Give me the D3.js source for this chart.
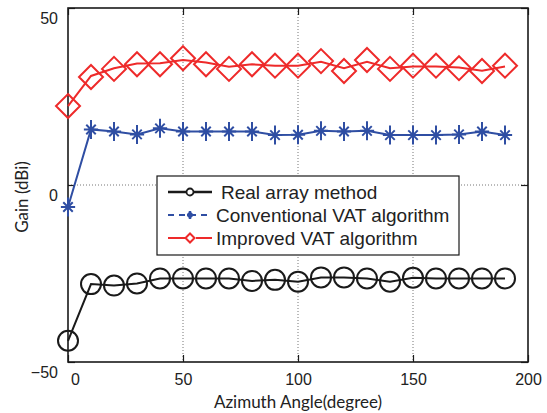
<!DOCTYPE html>
<html>
<head>
<meta charset="utf-8">
<script src="https://cdn.jsdelivr.net/npm/d3@7"></script>
<style>
  body { margin: 0; background: #fff; }
  svg { font-family: "Liberation Sans", Arial, sans-serif; }
</style>
</head>
<body>
<svg id="chart" width="547" height="413"></svg>
<script>
// azimuth angles (degree)
let angles = [0, 10, 20, 30, 40, 50, 60, 70, 80, 90, 100, 110, 120, 130, 140, 150, 160, 170, 180, 190];

// gains (dBi)
let realArray = [-44, -28, -28.4, -27.8, -26.4, -26.4, -26.4, -26.4, -27.1, -26.8, -27.3, -26.1, -26.1, -26.4, -27.3, -26.2, -26.4, -26.4, -26.4, -26.4];
let conventional = [-6.2, 15.7, 15.1, 14.3, 16.0, 15.1, 15.1, 15.1, 15.1, 14.1, 14.2, 15.3, 15.1, 15.3, 14.1, 14.1, 14.1, 14.3, 15.1, 14.1];
let improvedLine = [22.3, 30.8, 33.0, 34.3, 34.4, 35.3, 34.6, 33.4, 34.1, 33.7, 33.7, 34.8, 33.0, 34.8, 33.0, 33.5, 33.5, 33.2, 32.3, 33.5];
let improvedMarks = [22.3, 30.5, 32.8, 34.1, 34.1, 35.8, 34.1, 32.8, 34.1, 33.7, 33.7, 35.0, 32.2, 35.3, 32.8, 33.7, 33.7, 33.0, 32.2, 33.7];

let xTicks = [0, 50, 100, 150, 200];
let yTicks = [-50, 0, 50];
let legendLabels = ["Real array method", "Conventional VAT algorithm", "Improved VAT algorithm"];

let black = "#1a1a1a", blue = "#2f4ea3", red = "#ee2a2a";

let svg = d3.select("#chart");
let plotLeft = 68, plotRight = 528, plotTop = 8, plotBottom = 362;

let xScale = d3.scaleLinear().domain([0, 200]).range([plotLeft, plotRight]);
let yScale = d3.scaleLinear().domain([-50, 50]).range([plotBottom, plotTop]);

// grid (dotted)
let grid = svg.append("g")
    .attr("stroke", "#777")
    .attr("stroke-width", 1)
    .attr("stroke-dasharray", "1 2");
grid.selectAll("line.gx")
    .data(xTicks.filter(d => d > 0 && d < 200))
    .enter().append("line")
    .attr("x1", d => xScale(d)).attr("x2", d => xScale(d))
    .attr("y1", plotTop).attr("y2", plotBottom);
grid.selectAll("line.gy")
    .data(yTicks.filter(d => d > -50 && d < 50))
    .enter().append("line")
    .attr("x1", plotLeft).attr("x2", plotRight)
    .attr("y1", d => yScale(d)).attr("y2", d => yScale(d));

// axes with inward ticks
let xAxis = d3.axisBottom(xScale).tickValues(xTicks).tickSize(-7).tickPadding(12);
let yAxis = d3.axisLeft(yScale).tickValues(yTicks).tickSize(-7).tickPadding(10);

let gx = svg.append("g").attr("transform", "translate(0," + plotBottom + ")").call(xAxis);
let gy = svg.append("g").attr("transform", "translate(" + plotLeft + ",0)").call(yAxis);
svg.append("g").attr("transform", "translate(0," + plotTop + ")")
    .call(d3.axisTop(xScale).tickValues(xTicks).tickSize(-7).tickFormat(""));
svg.append("g").attr("transform", "translate(" + plotRight + ",0)")
    .call(d3.axisRight(yScale).tickValues(yTicks).tickSize(-7).tickFormat(""));

svg.selectAll(".domain").remove();
svg.selectAll(".tick line").attr("stroke", black).attr("stroke-width", 1.2);
gx.selectAll(".tick text")
    .attr("font-size", 16).attr("fill", "#222")
    .attr("dx", d => d === 0 ? 7 : 0);
gy.selectAll(".tick text")
    .attr("font-size", 16).attr("fill", "#222")
    .attr("dy", "0.95em");

// frame
svg.append("rect")
    .attr("x", plotLeft).attr("y", plotTop)
    .attr("width", plotRight - plotLeft).attr("height", plotBottom - plotTop)
    .attr("fill", "none").attr("stroke", black).attr("stroke-width", 1.6);

// axis titles
svg.append("text")
    .attr("x", 298).attr("y", 408)
    .attr("text-anchor", "middle").attr("font-size", 17).attr("fill", "#222")
    .attr("font-family", "Lato, sans-serif")
    .text("Azimuth Angle(degree)");
svg.append("text")
    .attr("transform", "translate(28,197) rotate(-90)")
    .attr("text-anchor", "middle").attr("font-size", 17).attr("fill", "#222")
    .attr("font-family", "Lato, sans-serif")
    .text("Gain (dBi)");

function series(values) {
    return values.map((v, i) => ({x: angles[i], y: v}));
}

let line = d3.line().x(d => xScale(d.x)).y(d => yScale(d.y));

function starPath(s) {
    let h = s * 0.75, d = s * 0.5;
    return "M0," + (-s) + "V" + s +
        "M" + (-h) + ",0H" + h +
        "M" + (-d) + "," + (-d) + "L" + d + "," + d +
        "M" + (-d) + "," + d + "L" + d + "," + (-d);
}
function diamondPath(s) {
    return "M0," + (-s) + "L" + s + ",0L0," + s + "L" + (-s) + ",0Z";
}

// improved VAT
svg.append("path").datum(series(improvedLine))
    .attr("d", line).attr("fill", "none")
    .attr("stroke", red).attr("stroke-width", 2);
svg.selectAll("path.dia").data(series(improvedMarks)).enter().append("path")
    .attr("class", "dia")
    .attr("transform", d => "translate(" + xScale(d.x) + "," + yScale(d.y) + ")")
    .attr("d", diamondPath(12))
    .attr("fill", "none").attr("stroke", red).attr("stroke-width", 2);

// conventional VAT
svg.append("path").datum(series(conventional))
    .attr("d", line).attr("fill", "none")
    .attr("stroke", blue).attr("stroke-width", 2);
svg.selectAll("path.star").data(series(conventional)).enter().append("path")
    .attr("class", "star")
    .attr("transform", d => "translate(" + xScale(d.x) + "," + yScale(d.y) + ")")
    .attr("d", starPath(9.5))
    .attr("fill", "none").attr("stroke", blue).attr("stroke-width", 2);

// real array
svg.append("path").datum(series(realArray))
    .attr("d", line).attr("fill", "none")
    .attr("stroke", black).attr("stroke-width", 2);
svg.selectAll("circle.real").data(series(realArray)).enter().append("circle")
    .attr("class", "real")
    .attr("cx", d => xScale(d.x)).attr("cy", d => yScale(d.y))
    .attr("r", 10)
    .attr("fill", "none").attr("stroke", black).attr("stroke-width", 2);

// legend
let legend = svg.append("g").attr("transform", "translate(157,176)");
legend.append("rect")
    .attr("width", 302).attr("height", 79)
    .attr("fill", "#fff").attr("stroke", black).attr("stroke-width", 1.2);

let rows = legend.selectAll("g.row").data(legendLabels).enter().append("g")
    .attr("transform", (d, i) => "translate(0," + (16 + i * 23) + ")");

rows.append("text")
    .attr("x", (d, i) => i === 0 ? 64 : 59).attr("y", 0).attr("dy", "0.36em")
    .attr("font-size", 19).attr("fill", "#222")
    .text(d => d);

// row 0: solid black with circle
let r0 = rows.filter((d, i) => i === 0);
r0.append("line").attr("x1", 11).attr("x2", 55).attr("y1", 0).attr("y2", 0)
    .attr("stroke", black).attr("stroke-width", 2.5);
r0.append("circle").attr("cx", 33).attr("cy", 0).attr("r", 3.5)
    .attr("fill", "#fff").attr("stroke", black).attr("stroke-width", 1.8);

// row 1: dashed blue with star
let r1 = rows.filter((d, i) => i === 1);
r1.append("line").attr("x1", 11).attr("x2", 55).attr("y1", 0).attr("y2", 0)
    .attr("stroke", blue).attr("stroke-width", 2).attr("stroke-dasharray", "6 5");
r1.append("path").attr("transform", "translate(33,0)").attr("d", starPath(4))
    .attr("stroke", blue).attr("stroke-width", 2.5);

// row 2: red with diamond
let r2 = rows.filter((d, i) => i === 2);
r2.append("line").attr("x1", 11).attr("x2", 28).attr("y1", 0).attr("y2", 0)
    .attr("stroke", red).attr("stroke-width", 2);
r2.append("line").attr("x1", 39).attr("x2", 55).attr("y1", 0).attr("y2", 0)
    .attr("stroke", red).attr("stroke-width", 2);
r2.append("path").attr("transform", "translate(33,0)").attr("d", diamondPath(4.5))
    .attr("fill", "#fff").attr("stroke", red).attr("stroke-width", 2);
</script>
</body>
</html>
